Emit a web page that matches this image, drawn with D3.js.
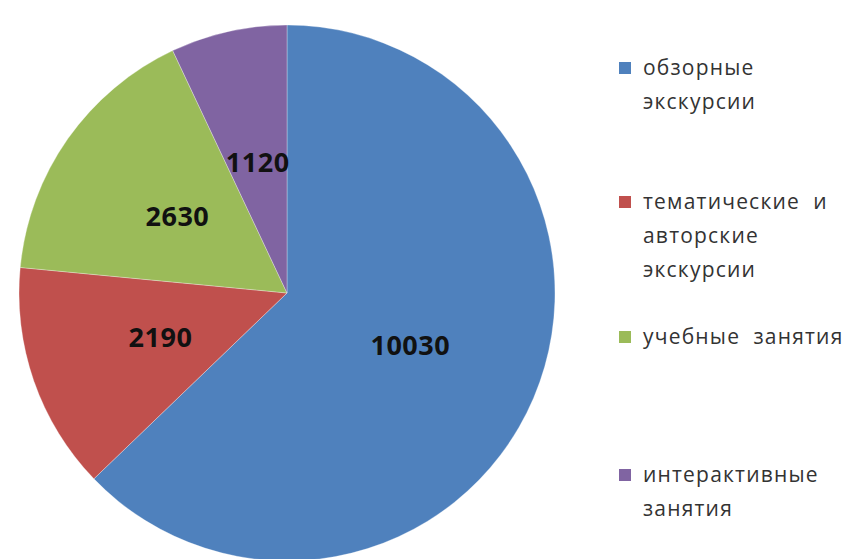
<!DOCTYPE html>
<html><head><meta charset="utf-8">
<script src="https://cdn.jsdelivr.net/npm/d3@7"></script>
<style>body{margin:0;background:#fff}svg{display:block}</style>
</head><body>
<svg id="c" width="859" height="559"></svg>
<script>
const categories = ["обзорные экскурсии", "тематические и авторские экскурсии", "учебные занятия", "интерактивные занятия"];
const values = [10030, 2190, 2630, 1120];
const legendLines = [["обзорные", "экскурсии"], ["тематические  и", "авторские", "экскурсии"], ["учебные  занятия"], ["интерактивные", "занятия"]];
const legendY = [68, 202, 337, 475];
const colors = ["#4F81BD", "#C0504D", "#9BBB59", "#8064A2"];

const svg = d3.select("#c");
const cx = 287, cy = 293, R = 268;
const color = d3.scaleOrdinal().domain(categories).range(colors);
const pie = d3.pie().sort(null).value(d => d.v);
const data = categories.map((c, i) => ({c, v: values[i]}));
const arcs = pie(data);
const arc = d3.arc().innerRadius(0).outerRadius(R);
const g = svg.append("g").attr("transform", `translate(${cx},${cy})`);
g.selectAll("path").data(arcs).enter().append("path")
  .attr("d", arc).attr("fill", d => color(d.data.c))
  .attr("stroke", "#fff").attr("stroke-width", 0.6).attr("stroke-opacity", 0.5);
const lab = d3.arc().innerRadius(R * 0.5).outerRadius(R * 0.5);
g.selectAll("text").data(arcs).enter().append("text")
  .attr("transform", d => `translate(${lab.centroid(d)})`)
  .attr("text-anchor", "middle").attr("dy", "0.36em")
  .attr("font-family", "'Open Sans', 'DejaVu Sans', sans-serif")
  .attr("font-weight", "bold").attr("font-size", 27).attr("letter-spacing", 0.5)
  .attr("fill", "#111").text(d => d.data.v);

const lg = svg.append("g");
categories.forEach((c, i) => {
  const y = legendY[i];
  lg.append("rect").attr("x", 619).attr("y", y - 6).attr("width", 12).attr("height", 12).attr("fill", color(c));
  legendLines[i].forEach((t, j) => {
    lg.append("text").attr("x", 643).attr("y", y + j * 34).attr("dy", "0.33em")
      .attr("font-family", "'Open Sans', 'DejaVu Sans', sans-serif")
      .attr("font-size", 21).attr("fill", "#333").attr("letter-spacing", 1.2)
      .style("white-space", "pre").text(t);
  });
});
</script>
</body></html>
